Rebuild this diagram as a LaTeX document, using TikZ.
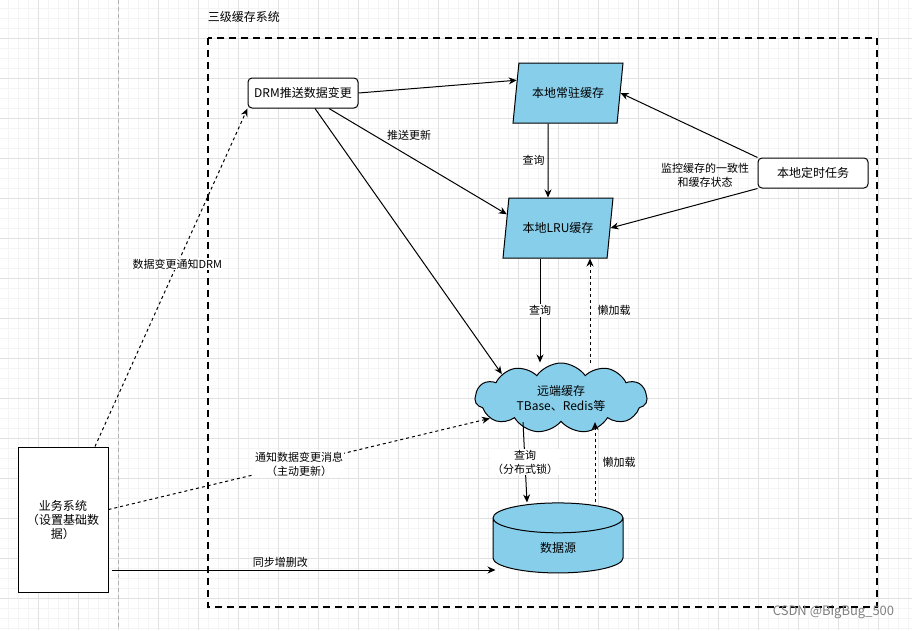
\documentclass[tikz,border=0pt]{standalone}
\usepackage{fontspec}
\setmainfont{Noto Sans CJK SC}
\usetikzlibrary{arrows.meta,shapes.geometric,shapes.symbols}

\definecolor{cachefill}{HTML}{87CEEB}
\definecolor{gridminor}{HTML}{F4F4F4}
\definecolor{gridmajor}{HTML}{E2E2E2}

\tikzset{
  box/.style={draw,rounded corners=4pt,fill=white,minimum width=110pt,minimum height=30pt,font=\fontsize{12}{14}\selectfont},
  cache/.style={draw,fill=cachefill,trapezium,trapezium left angle=71.57,trapezium right angle=108.43,
    trapezium stretches body,minimum width=110pt,minimum height=60pt,font=\fontsize{12}{14}\selectfont},
  lbl/.style={font=\fontsize{11}{14}\selectfont,align=center,inner sep=1pt},
  conn/.style={-{Stealth[length=8pt,width=7pt]}},
  lazy/.style={conn,dash pattern=on 3pt off 3pt},
}

\begin{document}
\begin{tikzpicture}[x=1pt,y=-1pt,line width=1pt]
\useasboundingbox (0,0) rectangle (912,630);

% background grid
\foreach \g in {8,18,...,908} \draw[gridminor,line width=0.6pt] (\g,0) -- (\g,630);
\foreach \g in {8,18,...,628} \draw[gridminor,line width=0.6pt] (0,\g) -- (912,\g);
\foreach \g in {38,78,...,898} \draw[gridmajor,line width=0.8pt] (\g,0) -- (\g,630);
\foreach \g in {38,78,...,618} \draw[gridmajor,line width=0.8pt] (0,\g) -- (912,\g);
\draw[gray!60,line width=0.8pt,dash pattern=on 4pt off 3pt] (118,0) -- (118,630);

% system frame
\draw[line width=2.4pt,dash pattern=on 7pt off 5pt] (208,38) rectangle (877,607);
\node[anchor=west,font=\fontsize{12}{14}\selectfont] (title) at (204,17) {三级缓存系统};

% nodes
\node[box] (drm) at (303,93) {DRM推送数据变更};
\node[cache] (changzhu) at (568,93) {本地常驻缓存};
\node[cache] (lru) at (558,228) {本地LRU缓存};
\node[box] (task) at (813,173) {本地定时任务};
\node[draw,fill=cachefill,cloud,cloud puffs=11,cloud puff arc=110,cloud ignores aspect,
  minimum width=172pt,minimum height=70pt,align=center,font=\fontsize{12}{15}\selectfont]
  (cloud) at (561,398) {远端缓存\\TBase、Redis等};
\node[draw,fill=cachefill,cylinder,shape border rotate=90,aspect=0.7,
  minimum width=130pt,minimum height=70pt,font=\fontsize{12}{14}\selectfont] (db) at (558,548) {数据源};
\node[draw,fill=white,minimum width=90pt,minimum height=145pt,align=center,
  font=\fontsize{12}{14}\selectfont] (biz) at (63,519.5) {业务系统\\（设置基础数\\据）};

\node[lbl] (jk) at (705,175) {监控缓存的一致性\\和缓存状态};

% connectors
\draw[conn] (drm.east) -- (changzhu.166);
\draw[conn] ([xshift=26pt]drm.south) -- node[lbl,above=14pt,pos=0.45] {推送更新} (lru.165);
\draw[conn] ([xshift=12pt]drm.south) -- (cloud.158);
\draw[conn] ([xshift=-20pt]changzhu.south) -- node[lbl,left=2pt] {查询} ([xshift=-10pt]lru.north);
\draw[conn] (task.north west) -- (changzhu.east);
\draw[conn] (task.south west) -- (lru.east);
\draw[conn] ([xshift=-18pt]lru.south) -- node[lbl,fill=white] {查询} ([xshift=-18pt]lru.south |- cloud.north);
\draw[lazy] ([xshift=32pt]lru.south |- cloud.north) -- node[lbl,right=6pt] {懒加载} ([xshift=32pt]lru.south);
\draw[conn] ([xshift=-38pt]cloud.south) -- node[lbl,fill=white] {查询\\（分布式锁）} ([xshift=-31pt]db.north);
\draw[lazy] ([xshift=37pt]db.north) -- node[lbl,right=6pt] {懒加载} ([xshift=37pt]db.north |- cloud.south);
\draw[lazy] ([xshift=32pt]biz.north) -- node[lbl,fill=white,pos=0.54] {数据变更通知DRM} (drm.south west);
\draw[lazy] ([yshift=10pt]biz.east) -- node[lbl,fill=white] {通知数据变更消息\\（主动更新）} (cloud.196);
\draw[conn] ([xshift=3pt,yshift=-50.5pt]biz.east) -- node[lbl,above=1pt,pos=0.44] {同步增删改} ([xshift=3pt,yshift=-50.5pt]biz.east -| db.west);

\node[anchor=east,text=black!50,font=\fontsize{13}{15}\selectfont] (mark) at (898,612) {CSDN @BigBug\_500};
\end{tikzpicture}
\end{document}
